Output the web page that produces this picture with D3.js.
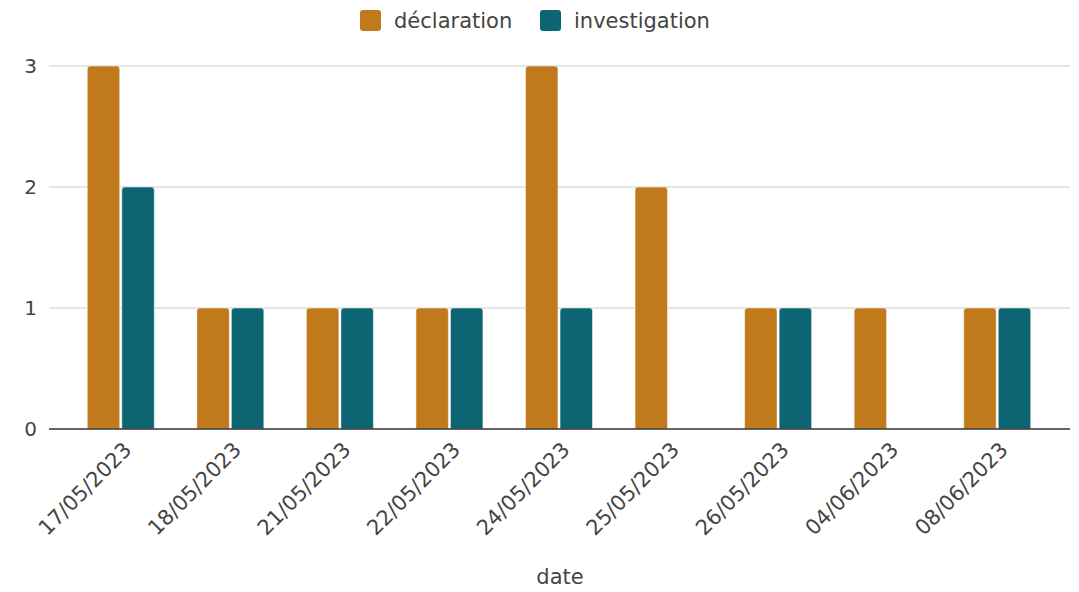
<!DOCTYPE html>
<html>
  <head>
    <meta charset='utf-8'>
    <style>
      body { margin: 0; background: #fff; }
      text { font-family: "DejaVu Sans", Verdana, sans-serif; fill: #444; }
    </style>
  </head>
  <body>
    <div id="chart"></div>
    <script src="https://d3js.org/d3.v7.min.js"></script>
    <script type="text/javascript">

      // --------------------------- data --------------------------
      var dates = ["17/05/2023", "18/05/2023", "21/05/2023", "22/05/2023", "24/05/2023",
                   "25/05/2023", "26/05/2023", "04/06/2023", "08/06/2023"];
      var series = ["déclaration", "investigation"];
      var declaration = [3, 1, 1, 1, 3, 2, 1, 1, 1];
      var investigation = [2, 1, 1, 1, 1, 0, 1, 0, 1];
      var yTicks = [0, 1, 2, 3];
      var colors = ["#c0791b", "#0d6473"];

      var width = 1079, height = 592;
      var plot = {left: 49, right: 1070, top: 66, bottom: 429};

      var x0 = d3.scaleBand().domain(dates).range([66, 1052]);
      var x1 = d3.scaleBand().domain(series).range([0, 67]).paddingInner(0.06);
      var y = d3.scaleLinear().domain([0, 3]).range([plot.bottom, plot.top]);
      var color = d3.scaleOrdinal().domain(series).range(colors);

      var svg = d3.select("#chart").append("svg")
        .attr("width", width)
        .attr("height", height);

      // gridlines + y labels
      var yAxis = d3.axisLeft(y).tickValues(yTicks).tickFormat(d3.format("d"))
        .tickSize(0).tickPadding(12);
      var gy = svg.append("g")
        .attr("transform", "translate(" + plot.left + ",0)")
        .call(yAxis);
      gy.select(".domain").remove();
      gy.selectAll("text").style("font-size", "20px").attr("fill", "#444");

      svg.append("g").selectAll("line")
        .data(yTicks.filter(function(d){ return d > 0; }))
        .enter().append("line")
        .attr("x1", plot.left).attr("x2", plot.right)
        .attr("y1", function(d){ return y(d); })
        .attr("y2", function(d){ return y(d); })
        .attr("stroke", "#cccccc")
        .attr("stroke-width", 1.2);

      // bars
      var rows = dates.map(function(d, i){
        return {date: d, values: [
          {key: series[0], value: declaration[i]},
          {key: series[1], value: investigation[i]}
        ]};
      });

      var r = 3;
      function barPath(x, yTop, w, h) {
        if (h <= 0) return "";
        var rr = Math.min(r, h);
        return "M" + x + "," + (yTop + h) +
          "V" + (yTop + rr) +
          "Q" + x + "," + yTop + " " + (x + rr) + "," + yTop +
          "H" + (x + w - rr) +
          "Q" + (x + w) + "," + yTop + " " + (x + w) + "," + (yTop + rr) +
          "V" + (yTop + h) + "Z";
      }

      var groupOffset = (x0.bandwidth() - 67) / 2;
      svg.append("g").selectAll("g")
        .data(rows).enter().append("g")
        .attr("transform", function(d){ return "translate(" + (x0(d.date) + groupOffset) + ",0)"; })
        .selectAll("path")
        .data(function(d){ return d.values; })
        .enter().append("path")
        .attr("d", function(d){
          return barPath(x1(d.key), y(d.value), x1.bandwidth(), y(0) - y(d.value));
        })
        .attr("fill", function(d){ return color(d.key); })
        .attr("stroke", "#fff")
        .attr("stroke-opacity", 0.5)
        .attr("stroke-width", 1);

      // baseline
      svg.append("line")
        .attr("x1", plot.left).attr("x2", plot.right)
        .attr("y1", y(0)).attr("y2", y(0))
        .attr("stroke", "#333")
        .attr("stroke-width", 1.5);

      // x axis labels
      var xAxis = d3.axisBottom(x0).tickSize(0).tickPadding(0);
      var gx = svg.append("g")
        .attr("transform", "translate(0," + y(0) + ")")
        .call(xAxis);
      gx.select(".domain").remove();
      gx.selectAll("text")
        .style("font-size", "21px")
        .attr("fill", "#444")
        .attr("text-anchor", "end")
        .attr("dy", null)
        .attr("transform", "translate(12,22) rotate(-45)");

      // axis title
      svg.append("text")
        .attr("x", 560).attr("y", 584)
        .attr("text-anchor", "middle")
        .style("font-size", "21px")
        .text("date");

      // legend
      var legendX = [360, 540];
      var legend = svg.append("g").selectAll("g")
        .data(series).enter().append("g")
        .attr("transform", function(d, i){ return "translate(" + legendX[i] + ",10)"; });
      legend.append("rect")
        .attr("width", 21).attr("height", 21).attr("rx", 3)
        .attr("fill", function(d){ return color(d); });
      legend.append("text")
        .attr("x", 34).attr("y", 18)
        .style("font-size", "21px")
        .text(function(d){ return d; });

  </script>
  </body>
</html>
